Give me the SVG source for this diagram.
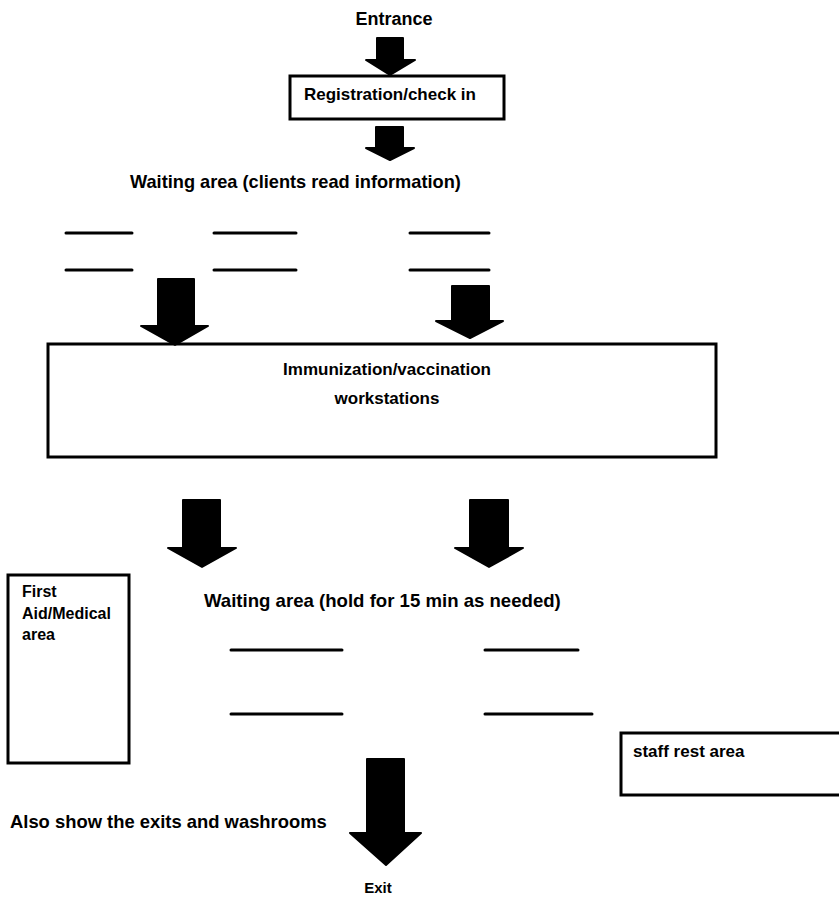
<svg xmlns="http://www.w3.org/2000/svg" width="839" height="903" viewBox="0 0 839 903">
<style>
text{font-family:"Liberation Sans",Arial,sans-serif;font-weight:bold;fill:#000}
.box{fill:#fff;stroke:#000;stroke-width:3}
.arrow{fill:#000;stroke:#000;stroke-width:2;stroke-linejoin:round}
.ln{stroke:#000;stroke-width:3;stroke-linecap:round}
</style>
<rect width="839" height="903" fill="#fff"/>
<g id="entrance"><text x="394" y="25" font-size="18" text-anchor="middle">Entrance</text></g>
<g id="registration"><rect class="box" x="290" y="76" width="214" height="43"/><text x="304" y="100" font-size="17">Registration/check in</text></g>
<g id="waiting1"><text x="130" y="188" font-size="18.2">Waiting area (clients read information)</text>
<line class="ln" x1="66" y1="233" x2="132" y2="233"/><line class="ln" x1="214" y1="233" x2="296" y2="233"/><line class="ln" x1="410" y1="233" x2="489" y2="233"/>
<line class="ln" x1="66" y1="270" x2="132" y2="270"/><line class="ln" x1="214" y1="270" x2="296" y2="270"/><line class="ln" x1="410" y1="270" x2="489" y2="270"/></g>
<g id="workstations"><rect class="box" x="48" y="344" width="668" height="113"/><text x="387" y="375" font-size="17" text-anchor="middle">Immunization/vaccination</text><text x="387" y="404" font-size="17" text-anchor="middle">workstations</text></g>
<g id="firstaid"><rect class="box" x="8" y="575" width="121" height="188"/><text x="22" y="597" font-size="16">First</text><text x="22" y="619" font-size="16">Aid/Medical</text><text x="22" y="640" font-size="16">area</text></g>
<g id="waiting2"><text x="204" y="607" font-size="18.6">Waiting area (hold for 15 min as needed)</text>
<line class="ln" x1="231" y1="650" x2="342" y2="650"/><line class="ln" x1="485" y1="650" x2="578" y2="650"/>
<line class="ln" x1="231" y1="714" x2="342" y2="714"/><line class="ln" x1="485" y1="714" x2="592" y2="714"/></g>
<g id="staff"><rect class="box" x="621" y="733" width="230" height="62"/><text x="633" y="757" font-size="17">staff rest area</text></g>
<g id="note"><text x="10" y="828" font-size="18.4">Also show the exits and washrooms</text></g>
<g id="exit"><text x="378" y="893" font-size="15" text-anchor="middle">Exit</text></g>
<g id="connectors">
<path class="arrow" d="M377,38 H403 V60 H415 L390,75 L366,60 H377 Z"/>
<path class="arrow" d="M376,127 H403 V148 H414 L390,160 L366,148 H376 Z"/>
<path class="arrow" d="M158,279 H194 V326 H208 L175,345 L141,326 H158 Z"/>
<path class="arrow" d="M452,286 H489 V321 H503 L470,338 L436,321 H452 Z"/>
<path class="arrow" d="M183,500 H220 V548 H236 L202,567 L168,548 H183 Z"/>
<path class="arrow" d="M470,500 H508 V548 H523 L489,567 L455,548 H470 Z"/>
<path class="arrow" d="M367,759 H404 V833 H421 L386,865 L350,833 H367 Z"/>
</g>
</svg>
